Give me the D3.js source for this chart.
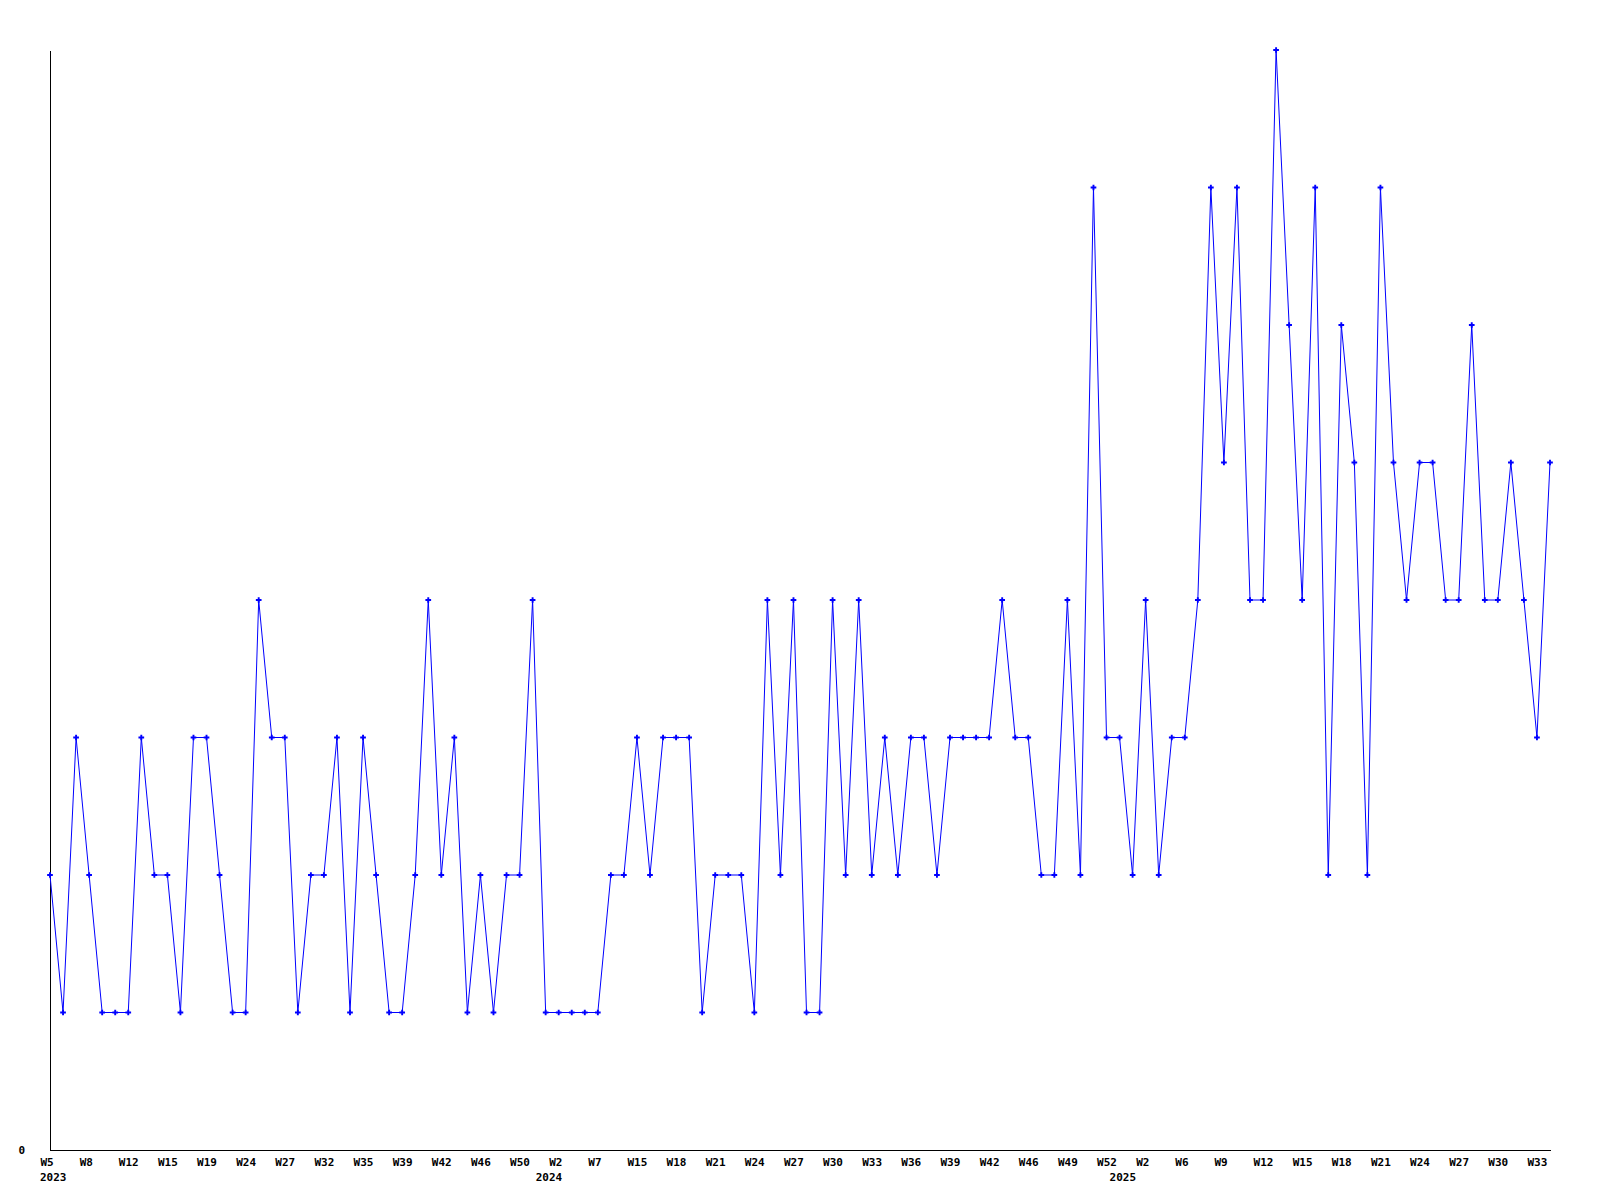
<!DOCTYPE html>
<html>
<head>
<meta charset="utf-8">
<script src="https://cdn.jsdelivr.net/npm/d3@7"></script>
<style>
  html, body { margin: 0; padding: 0; background: #ffffff; }
  svg { display: block; }
</style>
</head>
<body>
<script>
// ---- data ----
const weeks2023 = [5,6,7,8,9,10,12,13,14,15,16,17,19,20,22,24,25,26,27,28,30,32,33,34,35,36,37,39,40,41,42,43,45,46,47,48,50,51];
const weeks2024 = [1,2,4,5,7,10,12,15,16,17,18,19,20,21,22,23,24,25,26,27,28,29,30,31,32,33,34,35,36,37,38,39,40,41,42,43,45,46,47,48,49,50,51,52];
const weeks2025 = [0,1,2,3,5,6,7,8,9,10,11,12,13,14,15,16,17,18,19,20,21,22,23,24,25,26,27,28,29,30,31,32,33,34];
const values = [
  2,1,3,2,1,1,1,3,2,2,1,3,3,2,1,1,4,3,3,1,2,2,3,1,3,2,1,1,2,4,
  2,3,1,2,1,2,2,4,1,1,1,1,1,2,2,3,2,3,3,3,1,2,2,2,1,4,2,4,
  1,1,4,2,4,2,3,2,3,3,2,3,3,3,3,4,3,3,2,2,4,2,7,3,3,2,4,2,3,3,
  4,7,5,7,4,4,8,6,4,7,2,6,5,2,7,5,4,5,5,4,4,6,4,4,5,4,3,5
];
const yTickLabels = ["0"];
const tickEvery = 3;

(function () {
  // ---- build categories ----
  const categories = [];
  [[2023, weeks2023], [2024, weeks2024], [2025, weeks2025]].forEach(([yr, ws]) => {
    ws.forEach((w, k) => categories.push({ year: yr, week: w, first: k === 0 }));
  });
  const data = categories.map((c, i) => Object.assign({ i: i, v: values[i] }, c));

  // ---- layout ----
  const W = 1600, H = 1200;
  const mLeft = 50, mRight = 1550, mTop = 50, mBottom = 1150;
  const FONT = "'DejaVu Sans Mono', monospace";

  const svg = d3.select("body").append("svg").attr("width", W).attr("height", H);

  const x = d3.scalePoint().domain(data.map(d => d.i)).range([mLeft, mRight]);
  const y = d3.scaleLinear().domain([0, 8]).range([mBottom, mTop]);

  // x axis
  const xAxis = d3.axisBottom(x)
    .tickValues(data.filter(d => d.i % tickEvery === 0).map(d => d.i))
    .tickFormat(i => "W" + categories[i].week)
    .tickSize(0).tickSizeOuter(0);
  const gx = svg.append("g").attr("transform", `translate(0,${mBottom})`).call(xAxis);
  gx.select(".domain").attr("stroke", "#000").attr("stroke-width", 1).attr("shape-rendering", "crispEdges");
  gx.selectAll(".tick text")
    .attr("text-anchor", "start").attr("x", -10).attr("y", 15.5).attr("dy", null)
    .attr("font-family", FONT).attr("font-weight", "bold").attr("font-size", 11).attr("fill", "#000");

  // year labels
  svg.append("g").selectAll("text").data(data.filter(d => d.first)).join("text")
    .attr("x", d => x(d.i) - 10).attr("y", mBottom + 31)
    .attr("font-family", FONT).attr("font-weight", "bold").attr("font-size", 11).attr("fill", "#000")
    .text(d => d.year);

  // y axis
  const yAxis = d3.axisLeft(y).tickValues([0]).tickFormat((d, k) => yTickLabels[k])
    .tickSize(0).tickSizeOuter(0).tickPadding(25);
  const gy = svg.append("g").attr("transform", `translate(${mLeft},0)`).call(yAxis);
  gy.select(".domain").attr("stroke", "#000").attr("stroke-width", 1).attr("shape-rendering", "crispEdges");
  gy.selectAll(".tick text")
    .attr("dy", "0.32em")
    .attr("font-family", FONT).attr("font-weight", "bold").attr("font-size", 11).attr("fill", "#000");

  // line
  const line = d3.line().x(d => x(d.i)).y(d => y(d.v));
  svg.append("path").datum(data)
    .attr("d", line).attr("fill", "none").attr("stroke", "#0000ff").attr("stroke-width", 1);

  // markers (small crosses)
  svg.append("g").selectAll("path").data(data).join("path")
    .attr("transform", d => `translate(${x(d.i)},${y(d.v)})`)
    .attr("d", d3.symbol().type(d3.symbolCross).size(18))
    .attr("fill", "#0000ff");
})();
</script>
</body>
</html>
